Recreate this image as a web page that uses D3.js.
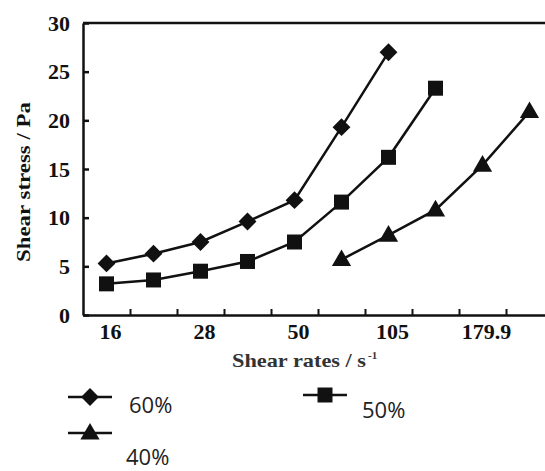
<!DOCTYPE html>
<html>
<head>
<meta charset="utf-8">
<script src="https://cdn.jsdelivr.net/npm/d3@7"></script>
<style>
  body { margin: 0; background: #fff; }
</style>
</head>
<body>
<div id="chart"></div>
<script>
// Shear rate categories; only every other one carries a label on the axis
const rateLabels = ['16', '', '28', '', '50', '', '105', '', '179.9', ''];
const stress60 = [5.3, 6.3, 7.5, 9.6, 11.8, 19.3, 27.0];
const stress50 = [3.2, 3.6, 4.5, 5.5, 7.5, 11.6, 16.2, 23.3];
const stress40 = [5.7, 8.2, 10.8, 15.4, 20.9];
const start40 = 5; // 40% series begins at the 6th shear rate
const yTicks = [0, 5, 10, 15, 20, 25, 30];

const width = 545, height = 471;
const ink = '#111';
const serif = '"Liberation Serif", "DejaVu Serif", serif';
const sans = '"Open Sans", "Noto Sans", sans-serif';

const series = [
  { name: '60%', shape: 'diamond', values: stress60.map((v, i) => ({ i, v })) },
  { name: '50%', shape: 'square', values: stress50.map((v, i) => ({ i, v })) },
  { name: '40%', shape: 'triangle', values: stress40.map((v, i) => ({ i: i + start40, v })) }
];

const svg = d3.select('#chart').append('svg')
  .attr('width', width)
  .attr('height', height);

const x = d3.scaleBand().domain(d3.range(rateLabels.length)).range([83, 553]);
const xEdge = d3.scaleLinear().domain([0, rateLabels.length]).range([83, 553]);
const y = d3.scaleLinear().domain([0, 30]).range([315, 23]);

// marker generator
function markerPath(shape) {
  if (shape === 'diamond') return d3.symbol(d3.symbolSquare, 160)();
  if (shape === 'square') return d3.symbol(d3.symbolSquare, 225)();
  return d3.symbol(d3.symbolTriangle, 160)();
}
function markerTransform(shape, cx, cy) {
  return shape === 'diamond' ? `translate(${cx},${cy}) rotate(45)` : `translate(${cx},${cy + (shape === 'triangle' ? 1 : 0)})`;
}

// top frame line
svg.append('line')
  .attr('x1', 83).attr('x2', width)
  .attr('y1', y(30)).attr('y2', y(30))
  .attr('stroke', ink).attr('stroke-width', 2.5);

// y axis, ticks pointing inward
const yAxis = svg.append('g')
  .attr('transform', 'translate(83,0)')
  .call(d3.axisLeft(y).tickValues(yTicks).tickSizeInner(-6).tickSizeOuter(0).tickPadding(13));
yAxis.select('.domain').attr('stroke', ink).attr('stroke-width', 2.5);
yAxis.selectAll('.tick line').attr('stroke', ink).attr('stroke-width', 2.5);
yAxis.selectAll('.tick text')
  .attr('fill', ink)
  .style('font-family', serif).style('font-weight', 'bold').style('font-size', '22px');

// x axis: ticks sit between categories
const xTickAxis = svg.append('g')
  .attr('transform', 'translate(0,315)')
  .call(d3.axisBottom(xEdge).tickValues(d3.range(1, rateLabels.length)).tickSizeInner(-6).tickSizeOuter(0).tickFormat(''));
xTickAxis.select('.domain').attr('stroke', ink).attr('stroke-width', 2.5);
xTickAxis.selectAll('.tick line').attr('stroke', ink).attr('stroke-width', 2);

const xLabelAxis = svg.append('g')
  .attr('transform', 'translate(0,315)')
  .call(d3.axisBottom(x).tickSize(0).tickPadding(8).tickFormat(i => rateLabels[i]));
xLabelAxis.select('.domain').remove();
xLabelAxis.selectAll('.tick text')
  .attr('fill', ink)
  .attr('dx', 4)
  .style('font-family', serif).style('font-weight', 'bold').style('font-size', '22px');

// axis titles
svg.append('text')
  .attr('transform', 'translate(30,182) rotate(-90)')
  .attr('text-anchor', 'middle')
  .attr('fill', ink)
  .attr('textLength', 160)
  .attr('lengthAdjust', 'spacingAndGlyphs')
  .style('font-family', serif).style('font-weight', 'bold').style('font-size', '19px')
  .text('Shear stress / Pa');

const xTitle = svg.append('text')
  .attr('x', 232).attr('y', 367)
  .attr('fill', '#333')
  .style('font-family', serif).style('font-weight', 'bold').style('font-size', '19px');
xTitle.append('tspan')
  .attr('textLength', 134)
  .attr('lengthAdjust', 'spacingAndGlyphs')
  .text('Shear rates / s');
xTitle.append('tspan').attr('dx', 2).attr('dy', -8).style('font-size', '11px').text('-1');

// series lines and markers
const line = d3.line()
  .x(d => x(d.i) + x.bandwidth() / 2)
  .y(d => y(d.v));

series.forEach(s => {
  const g = svg.append('g');
  g.append('path')
    .attr('d', line(s.values))
    .attr('fill', 'none')
    .attr('stroke', ink)
    .attr('stroke-width', 2.5);
  g.selectAll('path.marker')
    .data(s.values)
    .enter()
    .append('path')
    .attr('class', 'marker')
    .attr('d', markerPath(s.shape))
    .attr('transform', d => markerTransform(s.shape, x(d.i) + x.bandwidth() / 2, y(d.v)))
    .attr('fill', ink);
});

// legend
const legendPos = [
  { lx: 68, ly: 397, tx: 129, ty: 413 },
  { lx: 303, ly: 395, tx: 362, ty: 418 },
  { lx: 68, ly: 433, tx: 126, ty: 465 }
];
series.forEach((s, k) => {
  const p = legendPos[k];
  const g = svg.append('g');
  g.append('line')
    .attr('x1', p.lx).attr('x2', p.lx + 44)
    .attr('y1', p.ly).attr('y2', p.ly)
    .attr('stroke', ink).attr('stroke-width', 2.5);
  g.append('path')
    .attr('d', markerPath(s.shape))
    .attr('transform', markerTransform(s.shape, p.lx + 22, p.ly))
    .attr('fill', ink);
  g.append('text')
    .attr('x', p.tx).attr('y', p.ty)
    .attr('fill', '#222')
    .style('font-family', sans).style('font-size', '22px')
    .text(s.name);
});
</script>
</body>
</html>
